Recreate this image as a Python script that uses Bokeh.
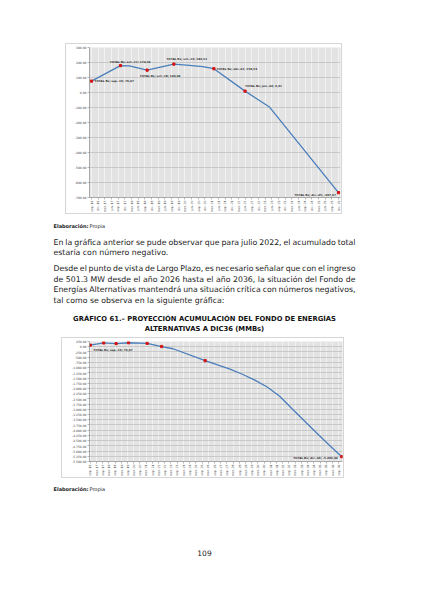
import math
from bokeh.plotting import figure
from bokeh.models import ColumnDataSource, Range1d, FixedTicker, Label, Spacer
from bokeh.layouts import column, row
from bokeh.embed import file_html
from bokeh.resources import INLINE
from bokeh.core.properties import value

# ---------------- data ----------------
MESES = ["ene", "feb", "mar", "abr", "may", "jun", "jul", "ago", "sep", "oct", "nov", "dic"]

# Chart 1: accumulated fund up to dic-25 (millions Bs)
c1_dates = ["2016-09", "2017-10", "2018-02", "2018-10", "2019-10", "2020-05",
            "2020-11", "2021-04", "2022-06", "2023-05", "2025-12"]
c1_values = [76.07, 179.52, 177.0, 149.06, 189.51, 181.0, 172.0, 158.53, 9.31, -97.0, -667.67]
c1_marker_dates = ["2016-09", "2017-10", "2018-10", "2019-10", "2021-04", "2022-06", "2025-12"]
c1_marker_values = [76.07, 179.52, 149.06, 189.51, 158.53, 9.31, -667.67]
c1_yticks = [300, 200, 100, 0, -100, -200, -300, -400, -500, -600, -700]

# Chart 2: projection up to dic-36 (millions Bs)
c2_dates = ["2016-09", "2017-10", "2018-10", "2019-10", "2021-04", "2022-06", "2023-05",
            "2025-12", "2026-12", "2027-12", "2028-12", "2029-12", "2030-12", "2031-12",
            "2032-12", "2033-12", "2034-12", "2035-12", "2036-12"]
c2_values = [76.07, 179.52, 149.06, 189.51, 158.53, 9.31, -97.0, -667.67, -870.0, -1070.0,
             -1320.0, -1600.0, -1930.0, -2370.0, -2970.0, -3560.0, -4150.0, -4720.0, -5269.90]
c2_marker_dates = ["2016-09", "2017-10", "2018-10", "2019-10", "2021-04", "2022-06", "2025-12", "2036-12"]
c2_marker_values = [76.07, 179.52, 149.06, 189.51, 158.53, 9.31, -667.67, -5269.90]
c2_label_dates = ["2016-09", "2036-12"]
c2_label_values = [76.07, -5269.90]
c2_yticks = [250 - 250 * i for i in range(24)]

# page texts
elab_bold = "Elaboración:"
elab_rest = "Propia"
para_lines = [
    "En la gráfica anterior se pude observar que para julio 2022, el acumulado total",
    "estaría con número negativo.",
    "Desde el punto de vista de Largo Plazo, es necesario señalar que con el ingreso",
    "de 501.3 MW desde el año 2026 hasta el año 2036, la situación del Fondo de",
    "Energías Alternativas mantendrá una situación crítica con números negativos,",
    "tal como se observa en la siguiente gráfica:",
]
para_justified = [True, False, True, True, True, False]
title_lines = ["GRÁFICO 61.– PROYECCIÓN ACUMULACIÓN DEL FONDO DE ENERGÍAS",
               "ALTERNATIVAS A DIC36 (MMBs)"]
page_number = "109"


# ---------------- helpers ----------------
def midx(s):
    y, m = s.split("-")
    return (int(y) - 2016) * 12 + int(m) - 9


def mlabel(i):
    t = i + 8
    return f"{MESES[t % 12]}.-{(2016 + t // 12) % 100:02d}"


def fmt_es(v):
    s = f"{v:,.2f}"
    return s.replace(",", "X").replace(".", ",").replace("X", ".")


LINE_COLOR = "#4a7ebb"
MARK_COLOR = "#d41414"
FONT_NAME = "DejaVu Sans"
BODY_FONT = value(FONT_NAME)

# approximate DejaVu Sans advance widths (font units / 2048) for justification
ADV = {" ": 651, ",": 651, ".": 651, ":": 690, "-": 739,
       "A": 1401, "D": 1577, "E": 1294, "F": 1178, "L": 1141, "M": 1767, "P": 1235, "W": 2025,
       "a": 1255, "b": 1300, "c": 1126, "d": 1300, "e": 1260, "f": 721, "g": 1300, "h": 1298,
       "i": 569, "j": 569, "k": 1186, "l": 569, "m": 1995, "n": 1298, "o": 1253, "p": 1300,
       "q": 1300, "r": 842, "s": 1067, "t": 803, "u": 1298, "v": 1212, "w": 1675, "x": 1212,
       "y": 1212, "z": 1075, "á": 1255, "é": 1260, "í": 569, "ó": 1253, "ú": 1298, "ñ": 1298}


def text_w(s, size):
    return sum(ADV.get(ch, 1303) for ch in s) / 2048.0 * size


def make_chart(w, h, xr, yr, mb, xticks, yticks):
    p = figure(width=w, height=h, x_range=Range1d(*xr), y_range=Range1d(*yr),
               output_backend="svg", toolbar_location=None,
               min_border_left=mb[0], min_border_right=mb[1],
               min_border_top=mb[2], min_border_bottom=mb[3],
               styles={"border": "1px solid #d6d6d6"})
    p.background_fill_color = "#e3e3e3"
    p.border_fill_color = "white"
    p.outline_line_color = None
    p.xaxis.ticker = FixedTicker(ticks=xticks)
    p.xaxis.major_label_overrides = {t: mlabel(t) for t in xticks}
    p.xaxis.major_label_orientation = math.pi / 2
    p.yaxis.ticker = FixedTicker(ticks=yticks)
    p.yaxis.major_label_overrides = {t: fmt_es(t) for t in yticks}
    for ax in (p.xaxis[0], p.yaxis[0]):
        ax.axis_line_color = "#8a8a8a"
        ax.axis_line_width = 0.7
        ax.major_tick_line_color = "#8a8a8a"
        ax.major_tick_line_width = 0.6
        ax.major_tick_out = 2
        ax.major_tick_in = 0
        ax.minor_tick_line_color = None
        ax.major_label_text_font = FONT_NAME
        ax.major_label_text_font_size = "3px"
        ax.major_label_text_color = "#404040"
        ax.major_label_standoff = 1
    p.xgrid.grid_line_color = "#f6f6f6"
    p.xgrid.grid_line_width = 0.8
    p.ygrid.grid_line_color = "#c2c2c2"
    p.ygrid.grid_line_width = 0.8
    return p


def add_series(p, dates, vals, mdates, mvals):
    p.line([midx(d) for d in dates], vals, line_color=LINE_COLOR, line_width=1.3)
    p.scatter([midx(d) for d in mdates], mvals, marker="square", size=2.2,
              fill_color=MARK_COLOR, line_color=MARK_COLOR)


def add_labels(p, dates, vals, dx, dy, align):
    src = ColumnDataSource(dict(
        x=[midx(d) for d in dates], y=vals,
        t=[f"TOTAL Bs; {mlabel(midx(d))}; {fmt_es(v)}" for d, v in zip(dates, vals)],
        dx=dx, dy=dy))
    p.text("x", "y", text="t", source=src, x_offset="dx", y_offset="dy",
           text_font=BODY_FONT, text_font_style="bold",
           text_font_size="2.8px", text_color="#303030",
           text_align=align, text_baseline="middle")


def y_title(p, x, y):
    p.add_layout(Label(x=x, y=y, text="Millones Bs", angle=math.pi / 2,
                       text_align="right", text_baseline="middle",
                       text_font=FONT_NAME, text_font_style="bold",
                       text_font_size="3px", text_color="#404040"))


# ---------------- chart 1 ----------------
c1_xticks = list(range(0, 112, 3))
fig1 = make_chart(277, 171, (-0.9, 111.9), (-700, 300), (23, 3, 3, 16), c1_xticks, c1_yticks)
add_series(fig1, c1_dates, c1_values, c1_marker_dates, c1_marker_values)
add_labels(fig1, c1_marker_dates[:6], c1_marker_values[:6],
           [3, -10.6, -7.3, -7.4, 2.6, 0], [0, -4, 5, -5.3, 0, -5.7], "left")
add_labels(fig1, c1_marker_dates[6:], c1_marker_values[6:], [-2.5], [1.6], "right")
y_title(fig1, -9.9, 300)

# ---------------- chart 2 ----------------
c2_xticks = list(range(0, 241, 6))
fig2 = make_chart(283, 141, (-0.7, 243.7), (-5500, 250), (27, 3, 3, 13), c2_xticks, c2_yticks)
add_series(fig2, c2_dates, c2_values, c2_marker_dates, c2_marker_values)
add_labels(fig2, c2_label_dates[:1], c2_label_values[:1], [3], [4], "left")
add_labels(fig2, c2_label_dates[1:], c2_label_values[1:], [-4], [1], "right")
y_title(fig2, -20, 250)


# ---------------- text blocks ----------------
def make_text_fig(h):
    p = figure(width=408, height=h, x_range=Range1d(0, 408), y_range=Range1d(h, 0),
               output_backend="svg", toolbar_location=None,
               x_axis_type=None, y_axis_type=None, min_border=0)
    p.grid.visible = False
    p.outline_line_color = None
    p.background_fill_color = "white"
    p.border_fill_color = "white"
    return p


def elaboracion(p, y):
    p.text([53], [y], text=[elab_bold], text_font=BODY_FONT, text_font_style="bold",
           text_font_size="5px", text_color="#1a1a1a", text_baseline="middle")
    p.text([89], [y], text=[elab_rest], text_font=BODY_FONT,
           text_font_size="5px", text_color="#1a1a1a", text_baseline="middle")


BODY_SIZE = 7.8
LEFT, RIGHT = 53.0, 355.0

txtB = make_text_fig(121)
elaboracion(txtB, 9.3)
para_y = [25.5, 36.4, 52.3, 62.6, 73.2, 83.9]
wx, wy, wt, wa = [], [], [], []
for line, y, just in zip(para_lines, para_y, para_justified):
    if not just:
        wx.append(LEFT); wy.append(y); wt.append(line); wa.append("left")
        continue
    words = line.split(" ")
    widths = [text_w(w, BODY_SIZE) for w in words]
    gap = (RIGHT - LEFT - sum(widths)) / (len(words) - 1)
    x = LEFT
    for i, (w, ww) in enumerate(zip(words, widths)):
        if i == len(words) - 1:
            wx.append(RIGHT); wa.append("right")
        else:
            wx.append(x); wa.append("left")
        wy.append(y); wt.append(w)
        x += ww + gap
src_body = ColumnDataSource(dict(x=wx, y=wy, t=wt, a=wa))
txtB.text("x", "y", text="t", source=src_body, text_align="a", text_font=BODY_FONT,
          text_font_size=f"{BODY_SIZE}px", text_color="#222222", text_baseline="middle")
txtB.text([204, 204], [102.5, 112.5], text=title_lines, text_font=BODY_FONT,
          text_font_style="bold", text_font_size="6.8px", text_color="#111111",
          text_align="center", text_baseline="middle")

txtD = make_text_fig(104)
elaboracion(txtD, 8.5)
txtD.text([204], [72.4], text=[page_number], text_font=BODY_FONT, text_font_size="7.5px",
          text_color="#1a1a1a", text_align="center", text_baseline="middle")

page = column(
    Spacer(width=408, height=43),
    row(Spacer(width=65, height=173), fig1),
    txtB,
    row(Spacer(width=61, height=143), fig2),
    txtD,
)

open("out.html", "w").write(file_html(page, INLINE))
